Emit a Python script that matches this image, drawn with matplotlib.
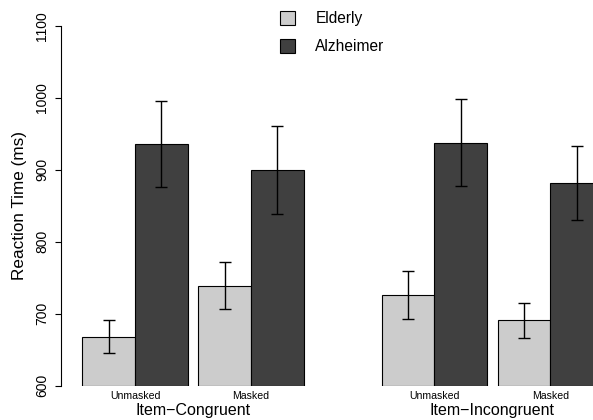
import matplotlib
matplotlib.use("Agg")
import matplotlib.pyplot as plt
import matplotlib.transforms as mtrans
from matplotlib.patches import Patch
import numpy as np

plt.rcParams['font.family'] = ['Liberation Sans', 'DejaVu Sans']

groups = ["Item\u2212Congruent", "Item\u2212Incongruent"]
conditions = ["Unmasked", "Masked", "Unmasked", "Masked"]
series = ["Elderly", "Alzheimer"]
elderly_mean = [668, 739, 726, 691]
elderly_err = [23, 33, 33, 24]
alz_mean = [936, 900, 938, 882]
alz_err = [60, 61, 61, 51]
y_ticks = [600, 700, 800, 900, 1000, 1100]

colors = ["#CCCCCC", "#404040"]

W, H = 593, 420
fig = plt.figure(figsize=(W / 100, H / 100), dpi=100)

px_per_unit = 52.7
ax_left_px, ax_right_px = 61.3, 593.0
y600_px, y1100_px = 385.7, 26.0
ax = fig.add_axes([ax_left_px / W, (H - y600_px) / H,
                   (ax_right_px - ax_left_px) / W, (y600_px - y1100_px) / H])
ax.set_xlim(0, (ax_right_px - ax_left_px) / px_per_unit)
ax.set_ylim(600, 1100)

pair_left = np.array([0.40, 2.60, 6.08, 8.28])
bw = 1.0
x_e = pair_left + bw / 2
x_a = pair_left + 1.5 * bw

ax.bar(x_e, np.array(elderly_mean) - 600, bottom=600, width=bw, color=colors[0],
       edgecolor="black", linewidth=0.8, label=series[0])
ax.bar(x_a, np.array(alz_mean) - 600, bottom=600, width=bw, color=colors[1],
       edgecolor="black", linewidth=0.8, label=series[1])
ax.errorbar(x_e, elderly_mean, yerr=elderly_err, fmt="none", ecolor="black",
            elinewidth=1.0, capsize=4.2, capthick=1.0)
ax.errorbar(x_a, alz_mean, yerr=alz_err, fmt="none", ecolor="black",
            elinewidth=1.0, capsize=4.2, capthick=1.0)

for s in ["top", "right", "bottom"]:
    ax.spines[s].set_visible(False)
ax.spines["left"].set_linewidth(0.8)
ax.set_xticks([])
ax.set_yticks(y_ticks)
ax.set_yticklabels([str(t) for t in y_ticks], rotation=90, va="center", fontsize=10)
ax.tick_params(axis="y", length=4, width=0.8, pad=4.5)

fig.text(20 / W, (H - (y600_px + y1100_px) / 2) / H, "Reaction Time (ms)",
         rotation=90, ha="center", va="center", fontsize=12.3)

tr = mtrans.blended_transform_factory(ax.transData, fig.transFigure)
centers = pair_left + bw
for xc, lab in zip(centers, conditions):
    ax.text(xc, (H - 395.7) / H, lab, transform=tr, ha="center", va="center",
            fontsize=7.6, clip_on=False)
for i, g in enumerate(groups):
    xc = (centers[2 * i] + centers[2 * i + 1]) / 2
    ax.text(xc, (H - 411) / H, g, transform=tr, ha="center", va="center",
            fontsize=11.5, clip_on=False)

handles = [Patch(facecolor=colors[0], edgecolor="black", linewidth=0.8),
           Patch(facecolor=colors[1], edgecolor="black", linewidth=0.8)]
fig.legend(handles, series, loc="upper left", bbox_to_anchor=(275 / W, 1 - 6.5 / H),
           frameon=False, fontsize=11.2, handlelength=1.0, handleheight=1.0,
           handletextpad=1.3, labelspacing=0.8, borderaxespad=0, borderpad=0.3)

fig.savefig("out.png", dpi=100)
